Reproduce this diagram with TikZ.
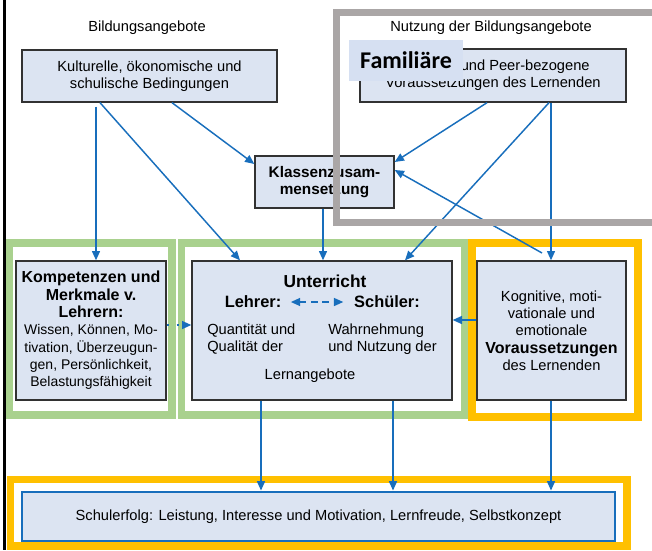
\documentclass[tikz,border=0pt]{standalone}
\usepackage{fontspec}
\setmainfont{Liberation Sans}
\newfontfamily\carlito{Carlito}
\usetikzlibrary{arrows.meta}

\definecolor{boxfill}{RGB}{220,228,242}
\definecolor{overlayfill}{RGB}{214,224,242}
\definecolor{pfeilblau}{RGB}{24,110,188}
\definecolor{randgrau}{RGB}{50,50,50}
\definecolor{rahmengruen}{RGB}{169,209,142}
\definecolor{rahmenorange}{RGB}{255,192,0}
\definecolor{rahmengrau}{RGB}{170,166,166}

\newcommand{\fettgross}[1]{{\fontsize{12}{13}\selectfont\bfseries #1}}

\begin{document}
\begin{tikzpicture}[x=0.75pt,y=0.75pt,
	box/.style={draw=randgrau,line width=1pt,fill=boxfill,align=center,inner sep=2pt,font=\fontsize{11}{13}\selectfont},
	txt/.style={inner sep=0pt,font=\fontsize{11}{13}\selectfont},
	fett/.style={inner sep=0pt,font=\fontsize{12.3}{13}\selectfont\bfseries},
	pfeil/.style={draw=pfeilblau,line width=1.1pt,-{Triangle[length=7pt,width=6pt]}},
	gruenrahmen/.style={draw=rahmengruen,line width=5.6pt},
	orangerahmen/.style={draw=rahmenorange,line width=5.6pt}]

		\useasboundingbox (0,0) rectangle (652,-550);

		\draw [gruenrahmen] (9,-243) rectangle (172,-415);
		\draw [gruenrahmen] (181.5,-243) rectangle (465,-415);
		\draw [orangerahmen] (472,-243) rectangle (638,-417);
		\draw [orangerahmen] (10.5,-479.5) rectangle (627,-546);

		\draw [line width=2.3pt] (4.5,0) -- (4.5,-550);

		\node [txt] (angebote) at (147,-28) {Bildungsangebote};
		\node [txt] (nutzung) at (491,-28) {Nutzung der Bildungsangebote};

		\node [box,minimum width=191.25pt,minimum height=39pt] (kultur) at (149.5,-76)
			{Kulturelle, ökonomische und\\schulische Bedingungen};
		\node [box,minimum width=199.5pt,minimum height=39.75pt] (familie) at (493,-75.5)
			{Familiäre und Peer-bezogene\\Voraussetzungen des Lernenden};
		\node [box,minimum width=104.25pt,minimum height=39pt,font=\fontsize{11.5}{13}\selectfont\bfseries] (klassen) at (324.5,-182)
			{Klassenzusam-\\mensetzung};

		\node [box,minimum width=112.5pt,minimum height=104.25pt,font=\fontsize{10.5}{13}\selectfont] (kompetenz) at (91,-330.5)
			{\fettgross{Kompetenzen und}\\\fettgross{Merkmale v.}\\\fettgross{Lehrern:}\\Wissen, Können, Mo-\\tivation, Überzeugun-\\gen, Persönlichkeit,\\Belastungsfähigkeit};
		\node [box,minimum width=195pt,minimum height=104.25pt] (unterricht) at (322,-330.5) {};
		\node [box,minimum width=111.75pt,minimum height=104.25pt] (kognitiv) at (551.5,-330.5)
			{Kognitive, moti-\\vationale und\\emotionale\\\fettgross{Voraussetzungen}\\des Lernenden};

		\node [txt,font=\fontsize{13}{15}\selectfont\bfseries] (titel) at (325,-281) {Unterricht};
		\node [fett] (lehrer) at (253,-302) {Lehrer:};
		\node [fett] (schueler) at (387,-302) {Schüler:};
		\node [txt,align=left,anchor=west] (quantitaet) at (207,-339) {Quantität und\\Qualität der};
		\node [txt,align=left,anchor=west] (wahrnehmung) at (328,-339) {Wahrnehmung\\und Nutzung der};
		\node [txt] (lernangebote) at (310,-376) {Lernangebote};

		\node [box,draw=pfeilblau,line width=2.2pt,minimum width=444.75pt,minimum height=36.75pt] (erfolg) at (318.5,-516.5)
			{Schulerfolg: Leistung, Interesse und Motivation, Lernfreude, Selbstkonzept};

		\coordinate (rueckweg) at (542,-253);

		\draw [pfeil,shorten <=3pt] (kultur.south -| 96,0) -- (kompetenz.north -| 96,0);
		\draw [pfeil] (kultur.south -| 100,0) -- (unterricht.north -| 240,0);
		\draw [pfeil] (kultur.south -| 172,0) -- (klassen.west |- 0,-164);
		\draw [pfeil] (familie.south -| 487,0) -- (klassen.east |- 0,-162);
		\draw [pfeil] (familie.south -| 549,0) -- (unterricht.north -| 405,0);
		\draw [pfeil] (familie.south -| 551,0) -- (kognitiv.north -| 551,0);
		\draw [pfeil] (rueckweg) -- (klassen.east |- 0,-170);
		\draw [pfeil] (klassen.south -| 323,0) -- (unterricht.north -| 323,0);

		\draw [pfeil,dash pattern=on 1.5pt off 6pt] (kompetenz.east |- 0,-325) -- (unterricht.west |- 0,-325);
		\draw [pfeil] (kognitiv.west |- 0,-320) -- (unterricht.east |- 0,-320);
		\draw [pfeil,{Triangle[length=7pt,width=6pt]}-{Triangle[length=7pt,width=6pt]},dash pattern=on 5pt off 3.5pt,shorten <=7pt,shorten >=8pt]
			(lehrer.east) -- (schueler.west);

		\draw [pfeil] (unterricht.south -| 261,0) -- (erfolg.north -| 261,0);
		\draw [pfeil] (unterricht.south -| 393,0) -- (erfolg.north -| 393,0);
		\draw [pfeil] (kognitiv.south -| 551,0) -- (erfolg.north -| 551,0);

		\draw [draw=rahmengrau,line width=5.25pt] (336,-12) rectangle (690,-222);
		\node [fill=overlayfill,minimum width=85.5pt,minimum height=30.75pt,inner sep=0pt,font=\carlito\bfseries\fontsize{18}{20}\selectfont] (familiaere) at (406,-60.5) {Familiäre};
	\end{tikzpicture}
\end{document}
